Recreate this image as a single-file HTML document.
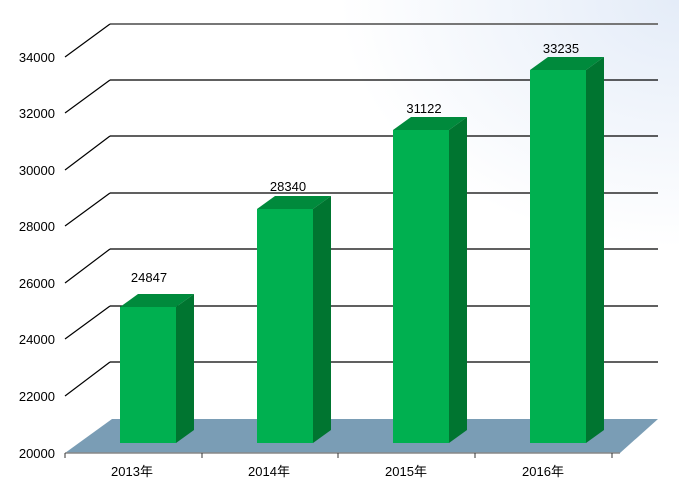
<!DOCTYPE html>
<html><head><meta charset="utf-8"><style>body{margin:0;background:#fff}svg{display:block}</style></head><body>
<svg width="679" height="495" xmlns="http://www.w3.org/2000/svg" font-family="Liberation Sans, Noto Sans CJK SC, sans-serif" font-size="13">
<defs><radialGradient id="bg" cx="1" cy="0" r="0.5"><stop offset="0" stop-color="#e4ecf8"/><stop offset="1" stop-color="#fff"/></radialGradient></defs>
<rect width="679" height="495" fill="#fff"/>
<rect width="679" height="495" fill="url(#bg)"/>
<g stroke="#000" stroke-width="1.2" fill="none">
<line x1="110" y1="24" x2="658" y2="24" stroke="#777" stroke-width="2"/>
<line x1="65" y1="57" x2="110" y2="24"/>
<line x1="110" y1="80" x2="658" y2="80"/><line x1="65" y1="113" x2="110" y2="80"/>
<line x1="110" y1="136" x2="658" y2="136"/><line x1="65" y1="170" x2="110" y2="136"/>
<line x1="110" y1="193" x2="658" y2="193"/><line x1="65" y1="226" x2="110" y2="193"/>
<line x1="110" y1="249" x2="658" y2="249"/><line x1="65" y1="283" x2="110" y2="249"/>
<line x1="110" y1="306" x2="658" y2="306"/><line x1="65" y1="339" x2="110" y2="306"/>
<line x1="110" y1="362" x2="658" y2="362"/><line x1="65" y1="396" x2="110" y2="362"/>
</g>
<polygon points="65,453 112,419 658,419 620,453" fill="#7a9db5"/>
<line x1="65" y1="453" x2="620" y2="453" stroke="#888" stroke-width="1.5"/>
<g stroke="#333"><line x1="65" y1="453" x2="65" y2="458"/><line x1="202" y1="453" x2="202" y2="458"/><line x1="338" y1="453" x2="338" y2="458"/><line x1="475" y1="453" x2="475" y2="458"/><line x1="612" y1="453" x2="612" y2="458"/></g>
<g>
<rect x="120" y="307" width="56" height="136" fill="#00b050"/><polygon points="120,307 138,294 194,294 176,307" fill="#008a3c"/><polygon points="176,307 194,294 194,430 176,443" fill="#007530"/>
<rect x="257" y="209" width="56" height="234" fill="#00b050"/><polygon points="257,209 275,196 331,196 313,209" fill="#008a3c"/><polygon points="313,209 331,196 331,430 313,443" fill="#007530"/>
<rect x="393" y="130" width="56" height="313" fill="#00b050"/><polygon points="393,130 411,117 467,117 449,130" fill="#008a3c"/><polygon points="449,130 467,117 467,430 449,443" fill="#007530"/>
<rect x="530" y="70" width="56" height="373" fill="#00b050"/><polygon points="530,70 548,57 604,57 586,70" fill="#008a3c"/><polygon points="586,70 604,57 604,430 586,443" fill="#007530"/>
</g>
<g fill="#000" text-anchor="middle">
<text x="149" y="282">24847</text><text x="288" y="191">28340</text><text x="424" y="113">31122</text><text x="561" y="53">33235</text>
<text x="132" y="476">2013年</text><text x="269" y="476">2014年</text><text x="406" y="476">2015年</text><text x="543" y="476">2016年</text>
</g>
<g fill="#000" text-anchor="end">
<text x="55" y="458">20000</text><text x="55" y="401">22000</text><text x="55" y="344">24000</text><text x="55" y="288">26000</text><text x="55" y="231">28000</text><text x="55" y="175">30000</text><text x="55" y="118">32000</text><text x="55" y="62">34000</text>
</g>
</svg>
</body></html>
